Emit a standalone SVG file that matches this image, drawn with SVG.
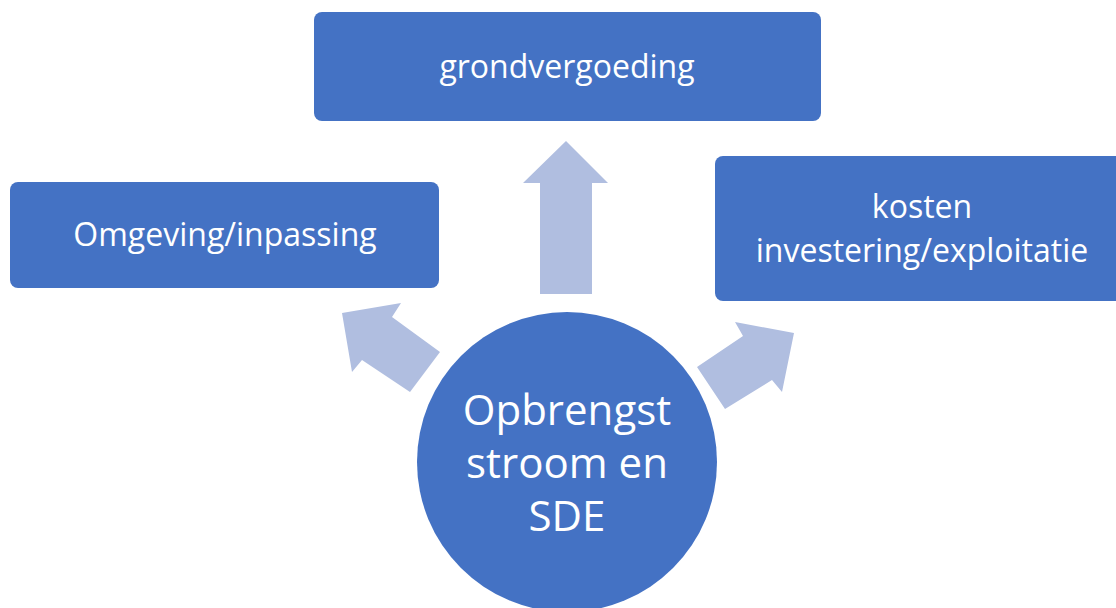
<svg xmlns="http://www.w3.org/2000/svg" width="1116" height="608" viewBox="0 0 1116 608">
<style>
.box{fill:#4472C4;}
.arr{fill:#B0BEE0;}
.t{font-family:"Open Sans","Liberation Sans",sans-serif;fill:#fff;text-anchor:middle;}
.m{font-size:32px;}
.c{font-size:42px;}
</style>
<rect width="1116" height="608" fill="#fff"/>
<g id="connectors">
<polygon class="arr" points="540,294 592,294 592,183 608,183 566,141 523,183 540,183"/>
<polygon class="arr" points="410,392 440,352 392,317 401,303 342,313 352,372 362,360"/>
<polygon class="arr" points="725,409 697,367 743,336 735,322 794,333 782,392 772,380"/>
</g>
<g id="center">
<circle cx="567" cy="462" r="150" class="box"/>
<text class="t c" x="567" y="425">Opbrengst</text>
<text class="t c" x="567" y="478">stroom en</text>
<text class="t c" x="567" y="531">SDE</text>
</g>
<g id="top">
<rect x="314" y="12" width="507" height="109" rx="8" class="box"/>
<text class="t m" x="567" y="78">grondvergoeding</text>
</g>
<g id="left">
<rect x="10" y="182" width="429" height="106" rx="8" class="box"/>
<text class="t m" x="225" y="246">Omgeving/inpassing</text>
</g>
<g id="right">
<rect x="715" y="156" width="410" height="145" rx="8" class="box"/>
<text class="t m" x="922" y="218">kosten</text>
<text class="t m" x="922" y="262">investering/exploitatie</text>
</g>
</svg>
